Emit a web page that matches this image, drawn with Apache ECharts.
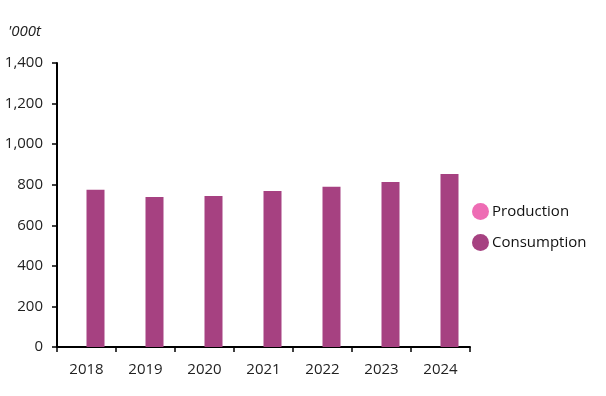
<!DOCTYPE html>
<html><head><meta charset="utf-8">
<script src="https://cdn.jsdelivr.net/npm/echarts@6/dist/echarts.min.js"></script>
<style>html,body{margin:0;padding:0;background:#fff}#c{width:606px;height:396px}</style>
</head><body><div id="c"></div>
<script>
const categories = ['2018','2019','2020','2021','2022','2023','2024'];
const production = [0,0,0,0,0,0,0];
const consumption = [775,739,744,769,790,813,853];
const yTicks = [0,200,400,600,800,1000,1200,1400];

const chart = echarts.init(document.getElementById('c'));
chart.setOption({
  animation:false,
  textStyle:{fontFamily:'Open Sans'},
  graphic:[{type:'text',left:8,top:24,style:{text:"'000t",fontSize:15,fontStyle:'italic',fill:'#222',fontFamily:'Open Sans'}}],
  grid:{left:57,right:136,top:63,bottom:49},
  legend:{orient:'vertical',left:467,top:198,itemGap:14,icon:'circle',itemWidth:17,itemHeight:17,
    textStyle:{fontSize:15,color:'#111',fontFamily:'Open Sans',padding:[0,0,0,-2]},data:['Production','Consumption']},
  xAxis:{type:'category',data:categories,boundaryGap:true,
    axisLine:{lineStyle:{color:'#000',width:2}},
    axisTick:{show:true,length:5,lineStyle:{color:'#000',width:1.5}},
    axisLabel:{fontSize:15,color:'#222',margin:15}},
  yAxis:{type:'value',min:0,max:1400,interval:200,
    axisLine:{show:true,lineStyle:{color:'#000',width:2}},
    axisTick:{show:true,length:5,lineStyle:{color:'#000',width:1.5}},
    splitLine:{show:false},
    axisLabel:{fontSize:15,color:'#222',margin:14,formatter:v=>yTicks.includes(v)?v.toLocaleString('en-US'):''}},
  series:[
    {name:'Production',type:'bar',data:production,barWidth:18,barGap:'0%',itemStyle:{color:'#EE6CB4'}},
    {name:'Consumption',type:'bar',data:consumption,barWidth:18,barGap:'0%',itemStyle:{color:'#A64181'}}
  ]
});
</script></body></html>
